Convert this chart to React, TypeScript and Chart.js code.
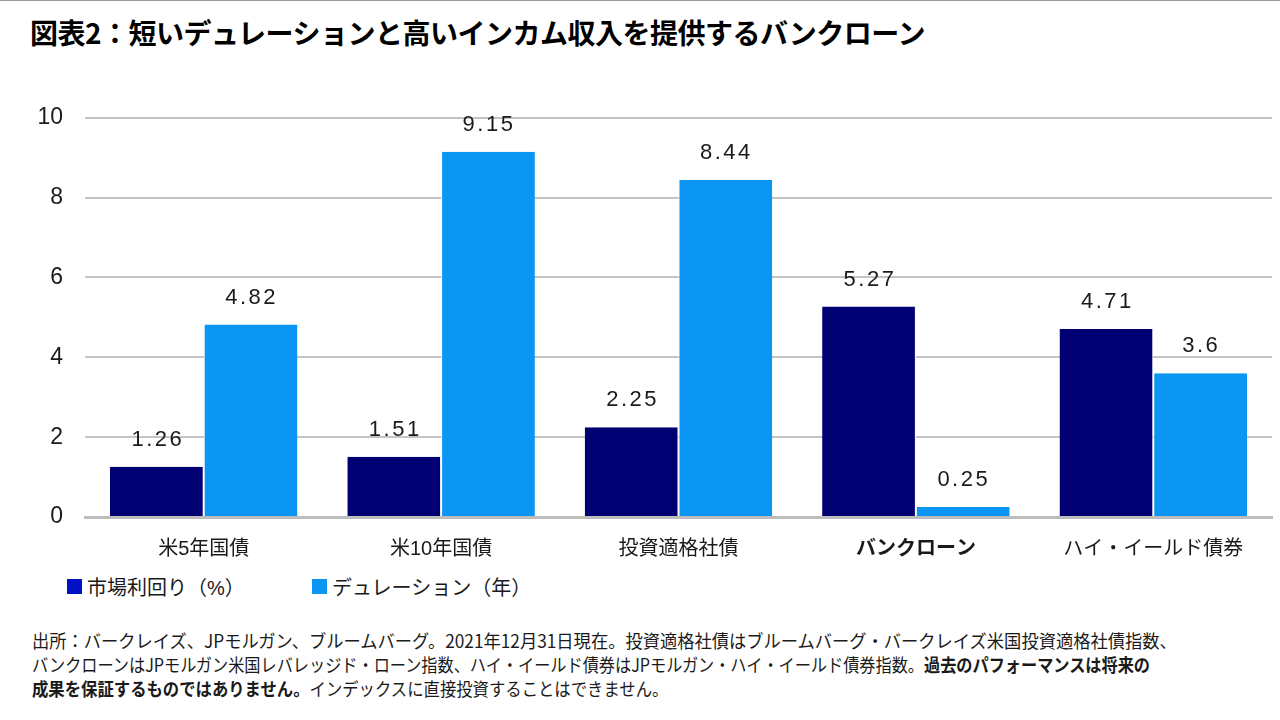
import React, { useEffect, useRef } from "react";
import { Chart, registerables } from "chart.js";

Chart.register(...registerables);

const TITLE = "図表2：短いデュレーションと高いインカム収入を提供するバンクローン";
const categories = ["米5年国債", "米10年国債", "投資適格社債", "バンクローン", "ハイ・イールド債券"];
const seriesNames = ["市場利回り（%）", "デュレーション（年）"];
const yieldValues = [1.26, 1.51, 2.25, 5.27, 4.71];
const durationValues = [4.82, 9.15, 8.44, 0.25, 3.6];
const yTicks = [0, 2, 4, 6, 8, 10];

const DARK = "#000073";
const LIGHT = "#0a96f2";
const LEGEND_DARK = "#0012c4";
const LEGEND_LIGHT = "#0a96f2";
const FONT = "'Liberation Sans', Arial, 'Noto Sans CJK JP', sans-serif";

const FOOT_TARGETS = [1145, 1118, 636];

const labelPlugin = {
  id: "barLabels",
  afterDatasetsDraw(chart: any) {
    const ctx = chart.ctx;
    ctx.save();
    ctx.font = `22px ${FONT}`;
    ctx.fillStyle = "#1a1a1a";
    ctx.textAlign = "center";
    ctx.textBaseline = "alphabetic";
    try { (ctx as any).letterSpacing = "2.5px"; } catch (e) {}
    chart.data.datasets.forEach((ds: any, di: number) => {
      const meta = chart.getDatasetMeta(di);
      meta.data.forEach((bar: any, i: number) => {
        ctx.fillText(String(ds.data[i]), bar.x + 1, bar.y - 21);
      });
    });
    ctx.restore();
  },
};

export default function App() {
  const ref = useRef<HTMLCanvasElement>(null);
  const footRefs = useRef<(HTMLDivElement | null)[]>([]);
  useEffect(() => {
    footRefs.current.forEach((el, i) => {
      if (!el) return;
      el.style.transform = "none";
      const w = el.scrollWidth;
      if (w > 0) el.style.transform = `scaleX(${FOOT_TARGETS[i] / w})`;
    });
    if (!ref.current) return;
    const chart = new Chart(ref.current, {
      type: "bar",
      data: {
        labels: categories,
        datasets: [
          { label: seriesNames[0], data: yieldValues, backgroundColor: DARK, borderColor: "#ffffff", borderWidth: { left: 0, right: 1, top: 0, bottom: 0 } as any },
          { label: seriesNames[1], data: durationValues, backgroundColor: LIGHT, borderColor: "#ffffff", borderWidth: { left: 1, right: 0, top: 0, bottom: 0 } as any },
        ],
      },
      options: {
        animation: false,
        responsive: false,
        maintainAspectRatio: false,
        layout: { padding: { top: 17, right: 8, left: 0, bottom: 0 } },
        datasets: { bar: { categoryPercentage: 0.79, barPercentage: 1 } },
        plugins: { legend: { display: false }, tooltip: { enabled: false } },
        scales: {
          x: {
            grid: { display: false, drawTicks: false },
            border: { display: true, color: "#bdbdbd", width: 3 },
            ticks: {
              color: "#1a1a1a",
              padding: 20,
              maxRotation: 0,
              font: (c: any) => ({ family: FONT, size: 20, weight: c.index === 3 ? "bold" : "normal" }) as any,
            },
            afterFit: (s: any) => { s.height = 54; },
          },
          y: {
            min: 0,
            max: 10,
            afterBuildTicks: (s: any) => { s.ticks = yTicks.map((v) => ({ value: v })); },
            grid: { color: "#c4c4c4", lineWidth: 2, drawTicks: false },
            border: { display: false },
            ticks: { color: "#1a1a1a", padding: 22, font: { family: FONT, size: 23 } },
            afterFit: (s: any) => { s.width = 85; },
          },
        },
      },
      plugins: [labelPlugin],
    });
    return () => chart.destroy();
  }, []);

  const legendItem = (color: string, text: string, left: number) => (
    <div style={{ position: "absolute", left, top: 571, height: 28, display: "flex", alignItems: "center", fontSize: 20, color: "#1a1a1a", whiteSpace: "nowrap" }}>
      <span style={{ display: "inline-block", width: 15, height: 15, background: color, marginRight: 5 }} />
      <span>{text}</span>
    </div>
  );

  const footLine = (i: number, content: React.ReactNode) => (
    <div
      ref={(el) => { footRefs.current[i] = el; }}
      style={{ display: "inline-block", whiteSpace: "nowrap", transformOrigin: "0 0", height: 24 }}
    >
      {content}
    </div>
  );

  return (
    <div style={{ position: "absolute", left: 0, top: 0, width: 1280, height: 720, background: "#fff", fontFamily: FONT, overflow: "hidden", borderTop: "1px solid #9a9a9a", boxSizing: "border-box" }}>
      <div style={{ position: "absolute", left: 30, top: 11, fontSize: 28, fontWeight: "bold", color: "#000", whiteSpace: "nowrap", fontFamily: "'Noto Sans CJK JP', sans-serif", letterSpacing: -0.5 }}>
        {TITLE}
      </div>
      <canvas ref={ref} width={1280} height={489} style={{ position: "absolute", left: 0, top: 81, width: 1280, height: 489 }} />
      {legendItem(LEGEND_DARK, seriesNames[0], 67)}
      {legendItem(LEGEND_LIGHT, seriesNames[1], 312)}
      <div style={{ position: "absolute", left: 32, top: 627, fontSize: 18, lineHeight: "24px", color: "#1a1a1a", fontFamily: "'Noto Sans CJK JP', sans-serif" }}>
        <div style={{ height: 24 }}>{footLine(0, "出所：バークレイズ、JPモルガン、ブルームバーグ。2021年12月31日現在。投資適格社債はブルームバーグ・バークレイズ米国投資適格社債指数、")}</div>
        <div style={{ height: 24 }}>{footLine(1, <>バンクローンはJPモルガン米国レバレッジド・ローン指数、ハイ・イールド債券はJPモルガン・ハイ・イールド債券指数。<b>過去のパフォーマンスは将来の</b></>)}</div>
        <div style={{ height: 24 }}>{footLine(2, <><b>成果を保証するものではありません。</b>インデックスに直接投資することはできません。</>)}</div>
      </div>
    </div>
  );
}
